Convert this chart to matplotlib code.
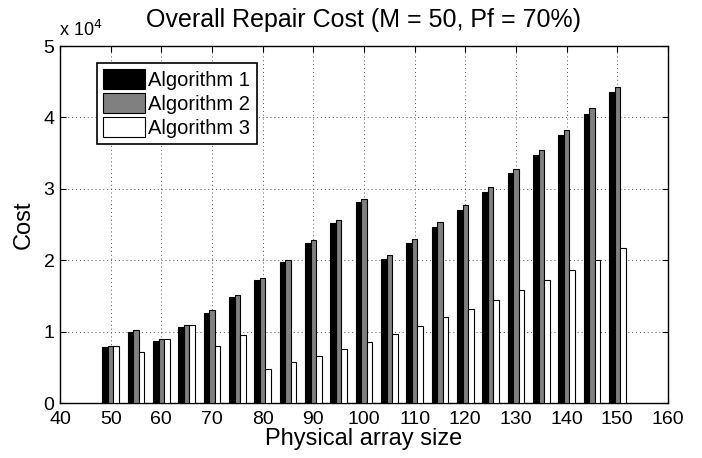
import matplotlib
matplotlib.use("Agg")
import matplotlib.pyplot as plt
import numpy as np
from matplotlib.ticker import FuncFormatter

plt.rcParams["font.family"] = ["Liberation Sans", "DejaVu Sans"]

sizes = [50, 55, 60, 65, 70, 75, 80, 85, 90, 95, 100,
         105, 110, 115, 120, 125, 130, 135, 140, 145, 150]
alg1 = [7800, 10000, 8700, 10600, 12600, 14800, 17200, 19700, 22400, 25200, 28100,
        20200, 22400, 24700, 27100, 29600, 32200, 34800, 37600, 40500, 43500]
alg2 = [8050, 10200, 9000, 10900, 13000, 15200, 17500, 20100, 22800, 25700, 28600,
        20800, 23000, 25300, 27700, 30200, 32800, 35500, 38300, 41300, 44300]
alg3 = [8050, 7200, 9000, 10900, 8050, 9500, 4800, 5700, 6600, 7600, 8600,
        9700, 10800, 12000, 13200, 14400, 15800, 17200, 18600, 20100, 21700]
labels = ["Algorithm 1", "Algorithm 2", "Algorithm 3"]

fig = plt.figure(figsize=(7.02, 4.58), dpi=100)
ax = fig.add_axes([0.0855, 0.120, 0.866, 0.7795])

x = np.array(sizes, dtype=float)
w = 1.1
ax.bar(x - w, alg1, w, color="black", edgecolor="black", linewidth=0.8, label=labels[0], zorder=3)
ax.bar(x, alg2, w, color="#808080", edgecolor="black", linewidth=0.8, label=labels[1], zorder=3)
ax.bar(x + w, alg3, w, color="white", edgecolor="black", linewidth=0.8, label=labels[2], zorder=3)

ax.set_xlim(40, 160)
ax.set_ylim(0, 50000)
ax.set_xticks(np.arange(40, 161, 10))
ax.set_yticks(np.arange(0, 50001, 10000))
ax.yaxis.set_major_formatter(FuncFormatter(lambda v, p: "%d" % round(v / 10000)))
ax.tick_params(direction="in", top=True, right=True, labelsize=14, length=4)
ax.tick_params(axis="x", pad=5.5)
ax.tick_params(axis="y", pad=4)
ax.grid(True, linestyle=(0, (1, 3)), color="#555555", linewidth=0.7, zorder=0)
for s in ax.spines.values():
    s.set_linewidth(1.0)

ax.text(-0.002, 1.018, "x 10$^{4}$", transform=ax.transAxes, fontsize=13, ha="left", va="bottom")
ax.set_title("Overall Repair Cost (M = 50, Pf = 70%)", fontsize=18, pad=14)
ax.set_xlabel("Physical array size", fontsize=17, labelpad=0)
ax.set_ylabel("Cost", fontsize=17, labelpad=6)

leg = ax.legend(loc="upper left", bbox_to_anchor=(0.061, 0.952), fontsize=14.5,
                fancybox=False, framealpha=1, edgecolor="black",
                handlelength=2.1, handleheight=1.15, handletextpad=0.15,
                labelspacing=0.15, borderpad=0.3, borderaxespad=0)
leg.get_frame().set_linewidth(1.2)

fig.savefig("out.png", dpi=100)
